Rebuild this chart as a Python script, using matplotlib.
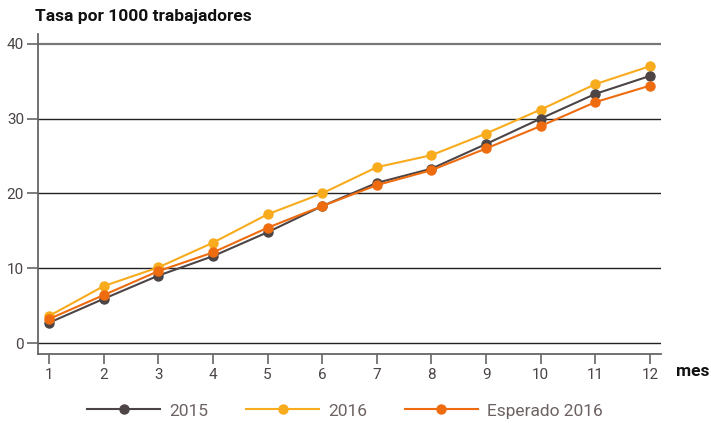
import numpy as np
import matplotlib.pyplot as plt

# datos
meses = np.arange(1, 13)
tasa_2015 = [2.7, 5.9, 9.0, 11.6, 14.8, 18.3, 21.4, 23.3, 26.6, 30.0, 33.3, 35.7]
tasa_2016 = [3.6, 7.6, 10.1, 13.4, 17.2, 20.0, 23.5, 25.1, 28.0, 31.2, 34.6, 37.0]
esperado_2016 = [3.2, 6.4, 9.6, 12.1, 15.4, 18.3, 21.1, 23.1, 26.0, 29.0, 32.2, 34.4]
yticks = [0, 10, 20, 30, 40]

c2015 = "#4d4545"
c2016 = "#f8ab1c"
cesp = "#ee6c0f"
gris = "#4a4444"

plt.rcParams['font.family'] = ['Roboto', 'DejaVu Sans']

fig = plt.figure(figsize=(7.11, 4.24), dpi=100)
ax = fig.add_axes([38/711, 70/424, 623/711, 320/424])

# lineas de la cuadricula
for v in yticks:
    if v == 40:
        ax.axhline(v, color="#777777", lw=1.6, zorder=1)
    else:
        ax.axhline(v, color="#222222", lw=1.0, zorder=1)

ax.plot(meses, tasa_2015, color=c2015, lw=1.5, marker="o", ms=6.5, label="2015", zorder=3)
ax.plot(meses, tasa_2016, color=c2016, lw=1.5, marker="o", ms=6.5, label="2016", zorder=2)
ax.plot(meses, esperado_2016, color=cesp, lw=1.5, marker="o", ms=6.5, label="Esperado 2016", zorder=4)

ax.set_xlim(0.8, 12.2)
ax.set_ylim(-1.47, 41.3)
ax.set_xticks(meses)
ax.set_yticks(yticks)

for s in ["top", "right"]:
    ax.spines[s].set_visible(False)
for s in ["left", "bottom"]:
    ax.spines[s].set_color("#666666")
    ax.spines[s].set_linewidth(1.3)

ax.tick_params(axis="both", colors="#666666", labelcolor=gris, labelsize=11, width=1.2, length=7)
ax.tick_params(axis="y", length=8, pad=2)
ax.tick_params(axis="x", pad=3)

fig.text(35/711, 1 - 17/424, "Tasa por 1000 trabajadores", fontsize=12.5, fontweight="bold",
         color="#111111", va="center", ha="left")
fig.text(1.0 - 2/711, 1 - 372/424, "mes", fontsize=12.5, fontweight="bold",
         color="#111111", va="center", ha="right")

leg = fig.legend(loc="center", bbox_to_anchor=(0.485, 1 - 411/424), ncol=3, frameon=False,
                 fontsize=12.5, handlelength=4.2, columnspacing=2.2, handletextpad=0.5)
for t in leg.get_texts():
    t.set_color("#6d6262")

fig.savefig("out.png", dpi=100)
